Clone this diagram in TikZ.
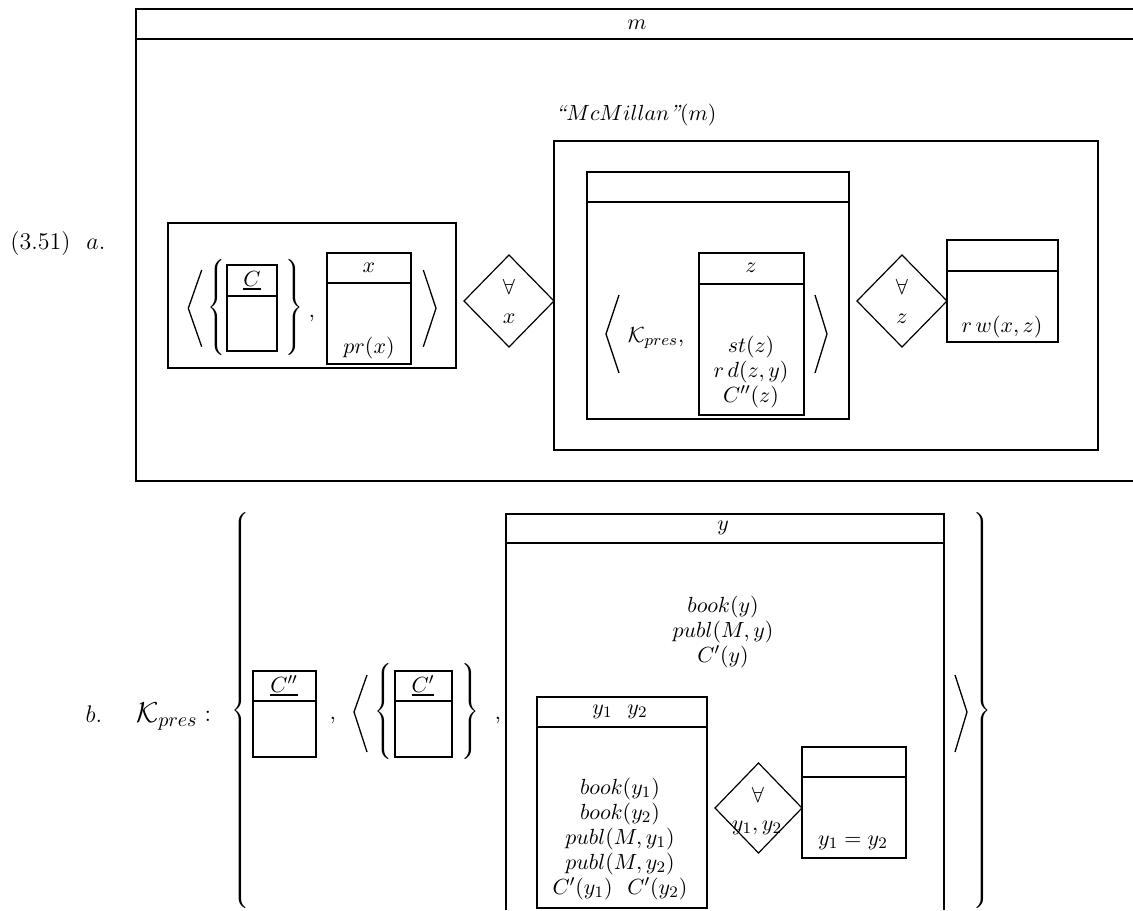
\documentclass[tikz,border=0pt]{standalone}
\usepackage{amsmath,amssymb}
\usepackage{tikz}
\usetikzlibrary{calc}

\delimiterfactor=1000
\delimitershortfall=0pt
\newcommand{\lbrc}[1]{{\nulldelimiterspace=0pt$\left\{\vrule height \dimexpr#1/2+2.5pt\relax depth \dimexpr#1/2-2.5pt\relax width 0pt\right.$}}
\newcommand{\rbrc}[1]{{\nulldelimiterspace=0pt$\left.\vrule height \dimexpr#1/2+2.5pt\relax depth \dimexpr#1/2-2.5pt\relax width 0pt\right\}$}}
\newcommand{\ulbar}[1]{\vtop{\hbox{$#1$}\kern0.8pt\hrule height 1.1pt}}

\tikzset{
  drs/.style={line width=1.4pt},
  frame/.style={line width=1.15pt},
  quant/.style={line width=0.6pt},
  brack/.style={line width=0.65pt},
  cond/.style={align=center, inner sep=0pt, font=\fontsize{10.95}{12.5}\selectfont},
  lbl/.style={inner sep=0pt, font=\fontsize{12}{14}\selectfont},
  delim/.style={inner sep=0pt}
}

\begin{document}
\begin{tikzpicture}[x=0.5pt, y=-0.5pt]
\useasboundingbox (0,0) rectangle (1133,910);

% (a) outer box for m, open on the right
\draw[drs] (1133,9) -- (136,9) -- (136,481) -- (1133,481);
\draw[drs] (136,39) -- (1133,39);
\node[cond] (mref) at (637,25) {$m$};
\node[cond] (mcm) at (636,115) {$\textit{``}McMillan\textit{''}(m)$};
\node[lbl, anchor=base west] (numa) at (10,249) {(3.51)\hspace{8pt}$a.$};

% Left box with the C set and the x box
\draw[frame] (168,223) rectangle (456,368);
\draw[brack] (201.7,270) -- (188.3,308.3) -- (201.7,346.7);
\node[delim] (lbra) at (216.5,307.5) {\lbrc{42.5pt}};
\draw[drs] (227,265) rectangle (277,351);
\draw[drs] (227,296) -- (277,296);
\node[cond] (ca) at (252,281) {\ulbar{C}};
\node[delim] (rbra) at (294,307.5) {\rbrc{42.5pt}};
\node[cond] (comma) at (312,318) {,};
\draw[drs] (327,253) rectangle (411,364);
\draw[drs] (327,283) -- (411,283);
\node[cond] (xref) at (369,268) {$x$};
\node[cond] (prx) at (369,348) {$pr(x)$};
\draw[brack] (423.3,270) -- (436,308.3) -- (423.3,346.7);

% Quantifier over x
\draw[quant] (464,301) -- (509,255) -- (554,301) -- (509,347) -- cycle;
\node[cond] (allx) at (509,287) {$\forall$};
\node[cond] (qx) at (509,319) {$x$};

% Right container
\draw[frame] (554,141) rectangle (1098,450);
\draw[drs] (587,172) rectangle (849,419);
\draw[drs] (587,202) -- (849,202);
\draw[brack] (619,295) -- (606,334) -- (619,373);
\node[cond] (kpa) at (656,338) {$\mathcal{K}_{pres}$,};
\draw[drs] (699,253) rectangle (804,415);
\draw[drs] (699,284) -- (804,284);
\node[cond] (zref) at (751,268) {$z$};
\node[cond] (zconds) at (751,372) {$st(z)$\\$r\,d(z,y)$\\$C''(z)$};
\draw[brack] (815,295) -- (827,334) -- (815,373);

% Quantifier over z
\draw[quant] (857,301) -- (902,255) -- (947,301) -- (902,347) -- cycle;
\node[cond] (allz) at (902,287) {$\forall$};
\node[cond] (qz) at (902,319) {$z$};
\draw[drs] (947,240) rectangle (1058,342);
\draw[drs] (947,271) -- (1058,271);
\node[cond] (rw) at (1002,327) {$r\,w(x,z)$};

% (b) label
\node[lbl, anchor=base] (lblb) at (94,722) {$b.$};
\node[lbl, anchor=base, font=\fontsize{14.4}{17}\selectfont] (kpb) at (167,722) {$\mathcal{K}_{pres}$};
\node[lbl] (colon) at (208,716) {:};

% Big braces
\node[delim] (lbrb) at (240,710.5) {\lbrc{196pt}};
\node[delim] (rbrb) at (982,710.5) {\rbrc{196pt}};

% C'' box
\draw[drs] (253,671) rectangle (316,757);
\draw[drs] (253,701) -- (316,701);
\node[cond] (cpp) at (284,686) {\ulbar{C''}};
\node[cond] (comb1) at (333,720) {,};

% < {C'} , y-box >
\draw[brack] (367,675) -- (354,712) -- (367,752);
\node[delim] (lbrc1) at (383,711.5) {\lbrc{46.5pt}};
\draw[drs] (395,671) rectangle (452,757);
\draw[drs] (395,701) -- (452,701);
\node[cond] (cp) at (423,686) {\ulbar{C'}};
\node[delim] (rbrc1) at (470.5,711.5) {\rbrc{46.5pt}};
\node[cond] (comb2) at (498,720) {,};

% y box, cut at the bottom
\draw[drs] (506,910) -- (506,514) -- (944,514) -- (944,910);
\draw[drs] (506,543) -- (944,543);
\node[cond] (yref) at (723,528) {$y$};
\node[cond] (yconds) at (723,632) {$book(y)$\\$publ(M,y)$\\$C'(y)$};

% y1 y2 box
\draw[drs] (537,697) rectangle (707,908);
\draw[drs] (537,727) -- (707,727);
\node[cond] (yyref) at (620,712) {$y_1\ \ y_2$};
\node[cond] (yyconds) at (620,839) {$book(y_1)$\\$book(y_2)$\\$publ(M,y_1)$\\$publ(M,y_2)$\\$C'(y_1)\ \ C'(y_2)$};

% Quantifier over y1, y2
\draw[quant] (715,808) -- (758.5,763) -- (802,808) -- (758.5,853) -- cycle;
\node[cond] (ally) at (758,795) {$\forall$};
\node[cond] (qy) at (757,828) {$y_1,y_2$};
\draw[drs] (802,747) rectangle (906,858);
\draw[drs] (802,777) -- (906,777);
\node[cond] (eq) at (853,843) {$y_1 = y_2$};
\draw[brack] (955,675) -- (967,712) -- (955,752);

\end{tikzpicture}
\end{document}
